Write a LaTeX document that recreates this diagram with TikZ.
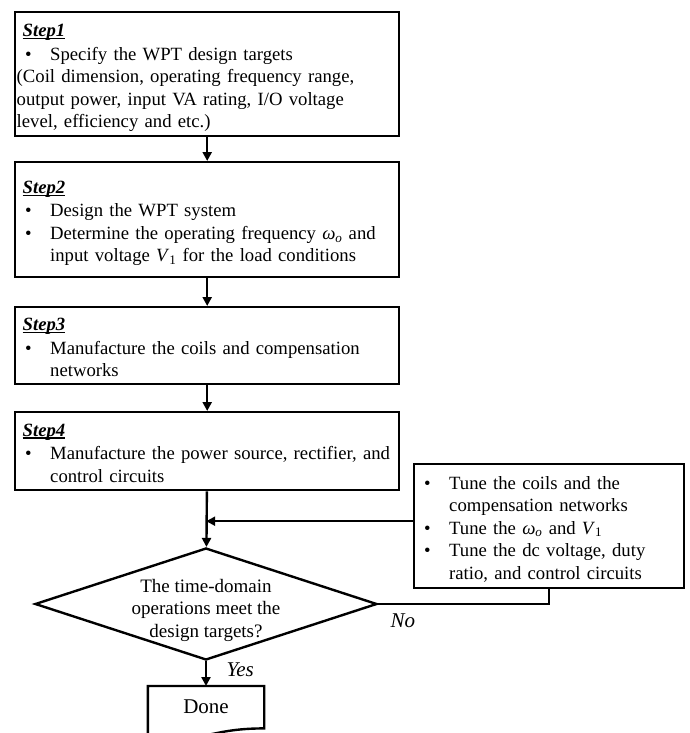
\documentclass[tikz,border=0pt]{standalone}
\usepackage{fontspec}
\setmainfont{Liberation Serif}
\usetikzlibrary{arrows.meta,positioning,shapes.geometric}
\setlength{\parindent}{0pt}
\newcommand{\topstrut}{\rule{0pt}{21pt}}
\newcommand{\botstrut}{\rule[-5pt]{0pt}{5pt}}
\newcommand{\stepname}[1]{\topstrut\hspace*{6pt}\setbox0\hbox{\bfseries\itshape #1}\rlap{\rule[-2.4pt]{\wd0}{1.3pt}}\box0}
\newcommand{\bul}{\makebox[33.5pt][l]{\hspace{8.5pt}\textbullet}}
\newcommand{\cont}{\hspace*{33.5pt}}

\begin{document}
\begin{tikzpicture}[x=1pt,y=-1pt,
 stepbox/.style={draw,line width=2.4pt,anchor=north west,align=left,text width=381pt,inner xsep=1.5pt,inner ysep=0pt,minimum width=384pt,font=\fontsize{18.7}{22.5}\selectfont},
 tunebox/.style={stepbox,text width=267pt,minimum width=270pt},
 decision/.style={draw,diamond,line width=2.4pt,minimum width=342pt,minimum height=112pt,inner sep=0pt},
 donebox/.style={anchor=north,minimum width=116pt,minimum height=42pt,inner sep=0pt,font=\fontsize{21}{25}\selectfont},
 yn/.style={font=\fontsize{21}{25}\selectfont\itshape},
 a/.style={-{Triangle[length=9pt,width=9pt]},line width=2.4pt},
 l/.style={line width=2.4pt}]
\useasboundingbox (0,0) rectangle (689,733);
\clip (0,0) rectangle (689,733);
\node[stepbox,minimum height=124pt] (step1) at (14,11) {\stepname{Step1}\\[1pt]
\bul Specify the WPT design targets\\
(Coil dimension, operating frequency range,\\
output power, input VA rating, I/O voltage\\
level, efficiency and etc.)\botstrut};
\node[stepbox,minimum height=115pt] (step2) at (14,161) {\stepname{Step2}\\[1pt]
\bul Design the WPT system\\
\bul Determine the operating frequency \textit{ω}\textsubscript{\textit{o}} and\\
\cont input voltage \textit{V}\textsubscript{1} for the load conditions\botstrut};
\node[stepbox,minimum height=77pt] (step3) at (14,306) {\stepname{Step3}\\[1pt]
\bul Manufacture the coils and compensation\\
\cont networks\botstrut};
\node[stepbox,minimum height=78pt] (step4) at (14,411) {\stepname{Step4}\\[1pt]
\bul Manufacture the power source, rectifier, and\\
\cont control circuits\botstrut};
\node[tunebox,minimum height=124pt] (tune) at (413,463) {\topstrut\bul Tune the coils and the\\
\cont compensation networks\\
\bul Tune the \textit{ω}\textsubscript{\textit{o}} and \textit{V}\textsubscript{1}\\
\bul Tune the dc voltage, duty\\
\cont ratio, and control circuits\botstrut};
\node[decision,label={[align=center,yshift=-6pt,font=\fontsize{19}{22.5}\selectfont]center:The time-domain\\operations meet the\\design targets?}] (check) at (206,604) {};
\node[donebox] (done) at (206,686) {Done};
\draw[l] (done.north west) -- (done.north east) -- (done.south east) .. controls (done.south) and ([yshift=-16pt]done.south) .. ([yshift=-7pt]done.south west) -- cycle;
\coordinate (back) at ([yshift=5pt]tune.west);
\draw[a] (step1) -- (step2);
\draw[a] (step2) -- (step3);
\draw[a] (step3) -- (step4);
\draw[a] (step4) -- (check);
\draw[a,shorten >=-1pt] (back) -- (back -| step4.south);
\draw[l] (check.east) -| node[at start,anchor=north west,xshift=8pt,yshift=-5pt,yn] (no) {No} (tune.south);
\draw[a] (check) -- node[pos=0.35,anchor=west,xshift=16pt,yn] (yes) {Yes} (done);
\end{tikzpicture}
\end{document}
